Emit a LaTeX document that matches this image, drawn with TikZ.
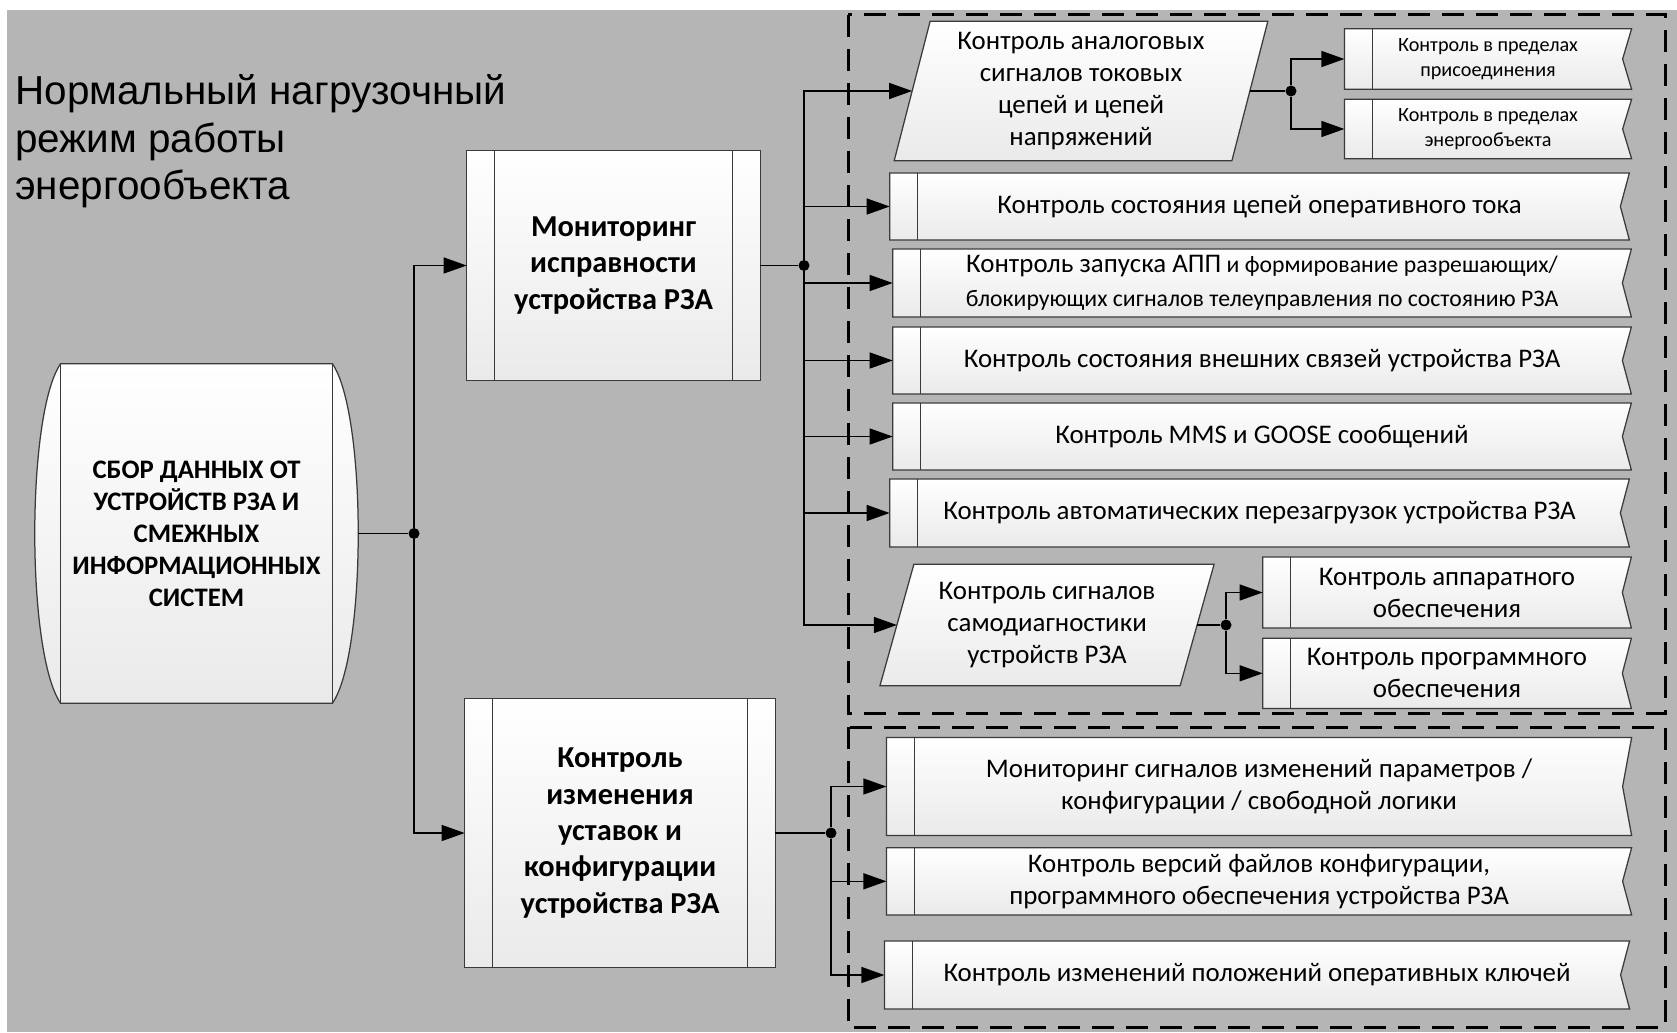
\documentclass[tikz,border=0pt]{standalone}
\usepackage{fontspec}
\setmainfont{Carlito}
\newfontfamily\titlefamily{Liberation Sans}
\usepackage{xcolor}
\usetikzlibrary{arrows.meta, backgrounds}
\definecolor{canvas}{HTML}{B5B5B5}
\definecolor{edge}{HTML}{3A3A3A}
\definecolor{shadebot}{HTML}{EAEAEA}

\begin{document}
\begin{tikzpicture}[
    x=0.2mm, y=-0.2mm,
    sheet/.style={
        rectangle, inner sep=0pt, align=center,
        font=\fontsize{15.3}{18.2}\selectfont,
    },
    smallsheet/.style={sheet, font=\fontsize{11.5}{14}\selectfont},
    leaning/.style={sheet},
    proc/.style={
        rectangle, inner sep=0pt, align=center,
        font=\bfseries\fontsize{17.3}{20.7}\selectfont,
    },
    drum/.style={
        rectangle, inner sep=0pt, align=center,
        font=\bfseries\fontsize{15.2}{18.2}\selectfont,
    },
    outline/.style={draw=edge, line width=0.25mm, top color=white, bottom color=shadebot},
    tabline/.style={draw=edge, line width=0.25mm},
    wire/.style={line width=0.28mm},
    feed/.style={wire, -{Triangle[length=4.6mm, width=3.2mm]}},
    junct/.style={circle, fill=black, inner sep=0pt, minimum size=2.2mm},
    zone/.style={draw=black, line width=0.6mm, dash pattern=on 4.4mm off 2.4mm},
]
\useasboundingbox (0,0) rectangle (1677,1032);

% ── Title ───────────────────────────────────────────────────────────────────
\node[anchor=north west, inner sep=0pt, align=left,
      font=\titlefamily\fontsize{23}{27.2}\selectfont] (title) at (15,74)
      {Нормальный нагрузочный\\режим работы\\энергообъекта};

% ── Source and the two main processes ───────────────────────────────────────
\node[drum, minimum width=64.6mm, minimum height=67.8mm] (src) at (196.5,533.5)
      {СБОР ДАННЫХ ОТ\\УСТРОЙСТВ РЗА И\\СМЕЖНЫХ\\ИНФОРМАЦИОННЫХ\\СИСТЕМ};
\node[proc, minimum width=58.6mm, minimum height=45.8mm] (mon) at (613.5,265.5)
      {Мониторинг\\исправности\\устройства РЗА};
\node[proc, minimum width=62mm, minimum height=53.6mm] (ctl) at (620,833)
      {Контроль\\изменения\\уставок и\\конфигурации\\устройства РЗА};

% ── Health monitoring branch ───────────────────────────────────────────────
\node[leaning, minimum width=67.4mm, minimum height=27.8mm] (ana) at (1081,91)
      {Контроль аналоговых\\сигналов токовых\\цепей и цепей\\напряжений};
\node[smallsheet, minimum width=57.3mm, minimum height=12mm] (sm1) at (1488,59)
      {Контроль в пределах\\присоединения};
\node[smallsheet, minimum width=57.3mm, minimum height=11.8mm] (sm2) at (1488,129)
      {Контроль в пределах\\энергообъекта};
\node[sheet, minimum width=147.8mm, minimum height=13.3mm] (b1) at (1259.5,206.5)
      {Контроль состояния цепей оперативного тока};
\node[sheet, minimum width=147.6mm, minimum height=13.5mm,
      font=\fontsize{13.5}{19}\selectfont] (b2) at (1262,283)
      {{\fontsize{15.3}{19}\selectfont Контроль запуска АПП} и формирование разрешающих/\\блокирующих сигналов телеуправления по состоянию РЗА};
\node[sheet, minimum width=147.6mm, minimum height=13.3mm] (b3) at (1262,360.5)
      {Контроль состояния внешних связей устройства РЗА};
\node[sheet, minimum width=147.6mm, minimum height=13.3mm] (b4) at (1262,436.5)
      {Контроль MMS и GOOSE сообщений};
\node[sheet, minimum width=147.8mm, minimum height=13.5mm] (b5) at (1259.5,513)
      {Контроль автоматических перезагрузок устройства РЗА};
\node[leaning, minimum width=59.9mm, minimum height=24.2mm] (diag) at (1047,625)
      {Контроль сигналов\\самодиагностики\\устройств РЗА};
\node[sheet, minimum width=73.6mm, minimum height=14.1mm] (hw) at (1447,592.5)
      {Контроль аппаратного\\обеспечения};
\node[sheet, minimum width=73.6mm, minimum height=13.9mm] (sw) at (1447,673.3)
      {Контроль программного\\обеспечения};

% ── Settings / configuration branch ─────────────────────────────────────────
\node[sheet, minimum width=148.9mm, minimum height=19.5mm] (l1) at (1259,786.5)
      {Мониторинг сигналов изменений параметров /\\конфигурации / свободной логики};
\node[sheet, minimum width=148.9mm, minimum height=13.3mm] (l2) at (1259,881.3)
      {Контроль версий файлов конфигурации,\\программного обеспечения устройства РЗА};
\node[sheet, minimum width=148.9mm, minimum height=13.5mm] (l3) at (1257,975)
      {Контроль изменений положений оперативных ключей};

% ── Junctions and connectors ───────────────────────────────────────────────
\node[junct] (j1) at (414,533.5) {};
\node[junct] (j2) at (804,265.5) {};
\node[junct] (j3) at (1291,91) {};
\node[junct] (j4) at (1226,625) {};
\node[junct] (j5) at (831,833) {};

\draw[wire] (src.east) -- (j1);
\draw[feed] (j1) |- (mon.west);
\draw[feed] (j1) |- (ctl.west);
\draw[wire] (mon.east) -- (j2);
\foreach \t in {ana,b1,b2,b3,b4,b5,diag}
    \draw[feed] (j2) |- (\t.west);
\draw[wire] (ana.east) -- (j3);
\foreach \t in {sm1,sm2}
    \draw[feed] (j3) |- (\t.west);
\draw[wire] (diag.east) -- (j4);
\foreach \t in {hw,sw}
    \draw[feed] (j4) |- (\t.west);
\draw[wire] (ctl.east) -- (j5);
\foreach \t in {l1,l2,l3}
    \draw[feed] (j5) |- (\t.west);

% ── Dashed groups ───────────────────────────────────────────────────────────
\draw[zone] (848,15) rectangle (1665,713);
\draw[zone] (848,727) rectangle (1665,1027);

% ── Shapes behind the texts ─────────────────────────────────────────────────
\begin{scope}[on background layer]
    \fill[canvas] (7,10) rectangle (1677,1032);
    \foreach \n in {sm1,sm2,b1,b2,b3,b4,b5,hw,sw,l1,l2,l3} {
        \path[outline] (\n.north west) -- (\n.north east) -- ([xshift=-1.8mm]\n.east)
            -- (\n.south east) -- (\n.south west) -- cycle;
        \draw[tabline] ([xshift=5.6mm]\n.north west) -- ([xshift=5.6mm]\n.south west);
    }
    \foreach \n in {mon,ctl} {
        \path[outline] (\n.north west) rectangle (\n.south east);
        \draw[tabline] ([xshift=5.6mm]\n.north west) -- ([xshift=5.6mm]\n.south west)
                       ([xshift=-5.6mm]\n.north east) -- ([xshift=-5.6mm]\n.south east);
    }
    \foreach \n/\s in {ana/3.6mm, diag/3.4mm} {
        \path[outline] ([xshift=\s]\n.north west) -- ([xshift=\s]\n.north east)
            -- ([xshift=-\s]\n.south east) -- ([xshift=-\s]\n.south west) -- cycle;
    }
    \path[outline] ([xshift=5.2mm]src.north west) -- ([xshift=-5.2mm]src.north east)
        .. controls ([xshift=1.7mm, yshift=-10mm]src.north east)
               and ([xshift=1.7mm, yshift=10mm]src.south east) .. ([xshift=-5.2mm]src.south east)
        -- ([xshift=5.2mm]src.south west)
        .. controls ([xshift=-1.7mm, yshift=10mm]src.south west)
               and ([xshift=-1.7mm, yshift=-10mm]src.north west) .. ([xshift=5.2mm]src.north west)
        -- cycle;
    \draw[tabline] ([xshift=5.2mm]src.north west) -- ([xshift=5.2mm]src.south west)
                   ([xshift=-5.2mm]src.north east) -- ([xshift=-5.2mm]src.south east);
\end{scope}

\end{tikzpicture}
\end{document}
